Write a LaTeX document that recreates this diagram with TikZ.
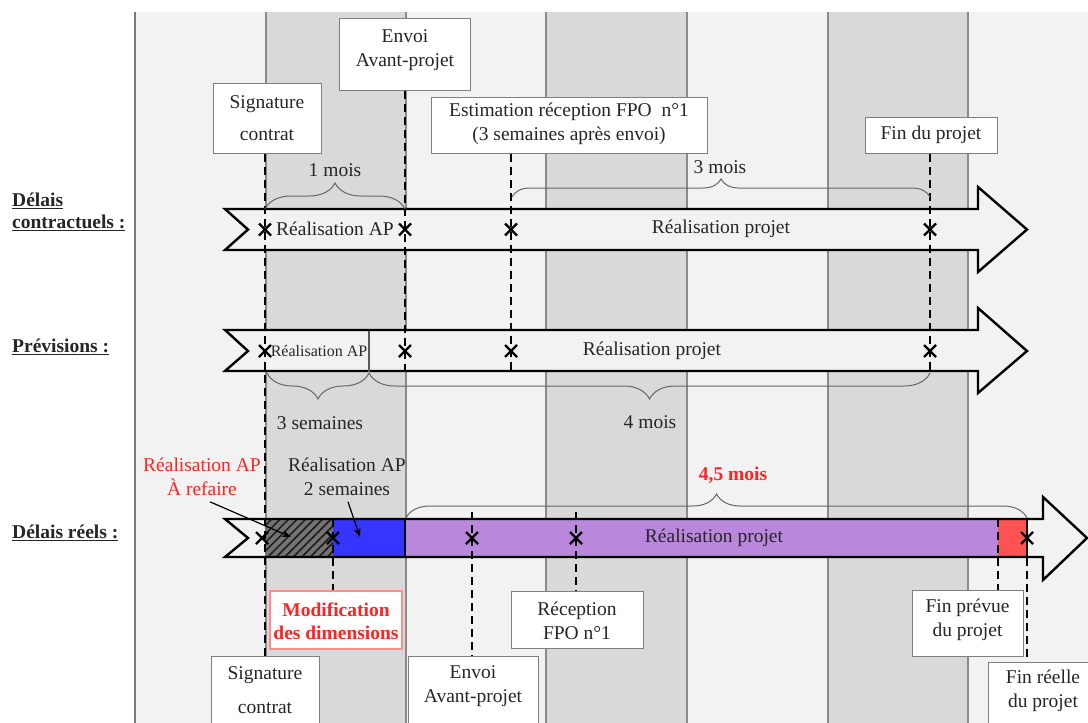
\documentclass[tikz,border=0pt]{standalone}
\usepackage{fontspec}
\setmainfont{Liberation Serif}
\usetikzlibrary{decorations.pathreplacing,patterns.meta,arrows.meta,calc}
\definecolor{bgg}{HTML}{F2F2F2}
\definecolor{band}{HTML}{D9D9D9}
\definecolor{edgec}{HTML}{8A8A8A}
\definecolor{apblue}{HTML}{3535FF}
\definecolor{projpurple}{HTML}{B987DB}
\definecolor{lated}{HTML}{FF5252}
\definecolor{redtxt}{HTML}{FF2424}
\definecolor{boxedge}{HTML}{7F7F7F}
\definecolor{txtc}{HTML}{262626}
\newcommand\fsz{\fontsize{19.5}{23.5}\selectfont}
\begin{document}
\begin{tikzpicture}[x=1pt,y=-1pt,
  txt/.style={font=\fsz, text=txtc, inner sep=0pt, align=center},
  box/.style={draw=boxedge, line width=1pt, fill=white, inner sep=0pt},
  arrowshape/.style={draw=black, line width=2.4pt, line join=miter},
  guide/.style={draw=black, line width=2pt, dash pattern=on 8pt off 5pt},
  bracel/.style={draw=black!60, line width=1pt, decorate},
  bandline/.style={draw=edgec, line width=1.3pt},
  xcross/.pic={\draw[line width=2.2pt, black] (-6,-6) -- (6,6) (-6,6) -- (6,-6);}
]
\clip (0,0) rectangle (1088,723);
\fill[white] (0,0) rectangle (1088,723);
% background and bands
\fill[bgg] (135,12) rectangle (1088,723);
\foreach \a/\b in {266/406,546/687,828/968} \fill[band] (\a,12) rectangle (\b,723);
\foreach \x in {266,406,546,687,828,968} \draw[bandline] (\x,12) -- (\x,723);
\draw[draw=edgec!90!black, line width=2pt] (135,12) -- (135,723);

% left labels
\node[txt, anchor=west, align=left, font=\fsz\bfseries] (lab1) at (12,212) {\underline{Délais}\\[-2pt]\underline{contractuels :}};
\node[txt, anchor=west, font=\fsz\bfseries] (lab2) at (12,347) {\underline{Prévisions :}};
\node[txt, anchor=west, font=\fsz\bfseries] (lab3) at (12,533) {\underline{Délais réels :}};

% row 1 arrow
\draw[arrowshape, fill=bgg] (225,209) -- (978,209) -- (978,187) -- (1027,229.5) -- (978,272) -- (978,250) -- (225,250) -- (248,229.5) -- cycle;
% row 2 arrow
\draw[arrowshape, fill=bgg] (225,330) -- (978,330) -- (978,308) -- (1027,351) -- (978,393) -- (978,371) -- (225,371) -- (248,351) -- cycle;
\draw[draw=black!65, line width=1.5pt] (369,331) -- (369,372);
% row 3 arrow
\fill[bgg] (225,519) -- (1043,519) -- (1043,497) -- (1087,538) -- (1043,580) -- (1043,557) -- (225,557) -- (248,538) -- cycle;
\fill[black!55] (265,519) rectangle (333,557);
\fill[pattern={Lines[angle=45,distance=6pt,line width=1.5pt]}, pattern color=black!90] (265,519) rectangle (333,557);
\fill[apblue] (333,519) rectangle (405,557);
\fill[projpurple] (405,519) rectangle (998,557);
\fill[lated] (998,519) rectangle (1027,557);
\draw[line width=1.5pt] (405,519) -- (405,557) (1027,519) -- (1027,557);
\draw[arrowshape] (225,519) -- (1043,519) -- (1043,497) -- (1087,538) -- (1043,580) -- (1043,557) -- (225,557) -- (248,538) -- cycle;

% marker coordinates
\coordinate (m1a) at (265,229.5); \coordinate (m1b) at (405,229.5);
\coordinate (m1c) at (511,229.5); \coordinate (m1d) at (930,229.5);
\coordinate (m2a) at (265,351); \coordinate (m2b) at (405,351);
\coordinate (m2c) at (511,351); \coordinate (m2d) at (930,351);
\coordinate (m3a) at (262,538); \coordinate (m3b) at (333,538);
\coordinate (m3c) at (472,538); \coordinate (m3d) at (576,538);
\coordinate (m3f) at (998,538); \coordinate (m3e) at (1027,538);

% top boxes
\node[box, minimum width=108, minimum height=70] (sigTop) at (267,118) {};
\node[txt] (sigTopT) at (267,118) {Signature\\[8pt]contrat};
\node[box, minimum width=131, minimum height=72] (envTop) at (405,54) {};
\node[txt] (envTopT) at (405,50) {Envoi\\Avant-projet};
\node[box, minimum width=276, minimum height=56] (estTop) at (569,125) {};
\node[txt] (estTopT) at (569,124) {Estimation réception FPO~ n°1\\(3 semaines après envoi)};
\node[box, minimum width=132, minimum height=36] (finTop) at (931,135) {};
\node[txt] (finTopT) at (931,135) {Fin du projet};

% bottom boxes
\node[box, draw=red!45, line width=1.3pt, minimum width=132, minimum height=58] (modif) at (336,620) {};
\node[txt, text=redtxt, font=\fsz\bfseries] (modifT) at (336,621) {Modification\\des dimensions};
\node[box, minimum width=108, minimum height=72] (sigBot) at (265,692) {};
\node[txt] (sigBotT) at (265,690) {Signature\\[10pt]contrat};
\node[box, minimum width=130, minimum height=72] (envBot) at (473,692) {};
\node[txt] (envBotT) at (473,686) {Envoi\\Avant-projet};
\node[box, minimum width=132, minimum height=57] (recep) at (577,619.5) {};
\node[txt] (recepT) at (577,621) {Réception\\FPO n°1};
\node[box, minimum width=111, minimum height=66] (finPrev) at (967.5,623) {};
\node[txt] (finPrevT) at (967.5,620) {Fin prévue\\du projet};
\node[box, minimum width=112, minimum height=70] (finReel) at (1044,697) {};
\node[txt] (finReelT) at (1043,691) {Fin réelle\\du projet};

% dashed guides
\draw[guide] (sigTop.south -| m1a) -- (sigBot.north -| m1a);
\draw[guide] (envTop.south -| m1b) -- ($(m2b)+(0,20)$);
\draw[guide] (estTop.south -| m1c) -- ($(m2c)+(0,20)$);
\draw[guide] (finTop.south -| m1d) -- ($(m2d)+(0,20)$);
\draw[guide] ($(m3b)+(0,-19)$) -- (modif.north -| m3b);
\draw[guide] ($(m3c)+(0,-26)$) -- (envBot.north -| m3c);
\draw[guide] ($(m3d)+(0,-26)$) -- (recep.north -| m3d);
\draw[guide] ($(m3f)+(0,-19)$) -- (finPrev.north -| m3f);
\draw[guide] ($(m3e)+(0,-19)$) -- (finReel.north -| m3e);

% crosses
\foreach \c in {m1a,m1b,m1c,m1d,m2a,m2b,m2c,m2d,m3a,m3b,m3c,m3d,m3e} \pic at (\c) {xcross};

% braces
\draw[bracel, decoration={brace, amplitude=26pt}] (265,209) -- (405,209);
\draw[bracel, decoration={brace, amplitude=18pt}] (512,197) -- (930,197);
\draw[bracel, decoration={brace, mirror, amplitude=26pt}] (267,373) -- (369,373);
\draw[bracel, decoration={brace, mirror, amplitude=26pt}] (369,373) -- (930,373);
\draw[bracel, decoration={brace, amplitude=24pt}] (406,518) -- (1027,518);

\node[txt] (l1m) at (335,170) {1 mois};
\node[txt] (l3m) at (720,167) {3 mois};
\node[txt] (l3s) at (320,423) {3 semaines};
\node[txt] (l4m) at (650,422) {4 mois};
\node[txt, text=redtxt, font=\fsz\bfseries] (l45) at (733,475) {4,5 mois};

% row texts
\node[txt] (r1ap) at (335,229) {Réalisation AP};
\node[txt] (r1pj) at (721,229) {Réalisation projet};
\node[txt, font=\fontsize{16}{19}\selectfont] (r2ap) at (319,351) {Réalisation AP};
\node[txt] (r2pj) at (652,351) {Réalisation projet};
\node[txt] (r3pj) at (714,538) {Réalisation projet};

% row 3 annotations
\node[txt, text=redtxt] (refaire) at (202,477) {Réalisation AP\\À refaire};
\node[txt] (deux) at (347,477) {Réalisation AP\\2 semaines};
\coordinate (refTip) at (291,537);
\coordinate (deuxTip) at (360,537);
\draw[-{Stealth[length=9pt,width=7pt]}, line width=1.2pt] ($(refaire.south)+(8,6)$) -- (refTip);
\draw[-{Stealth[length=9pt,width=7pt]}, line width=1.2pt] ($(deux.south)+(1,6)$) -- (deuxTip);
\end{tikzpicture}
\end{document}
